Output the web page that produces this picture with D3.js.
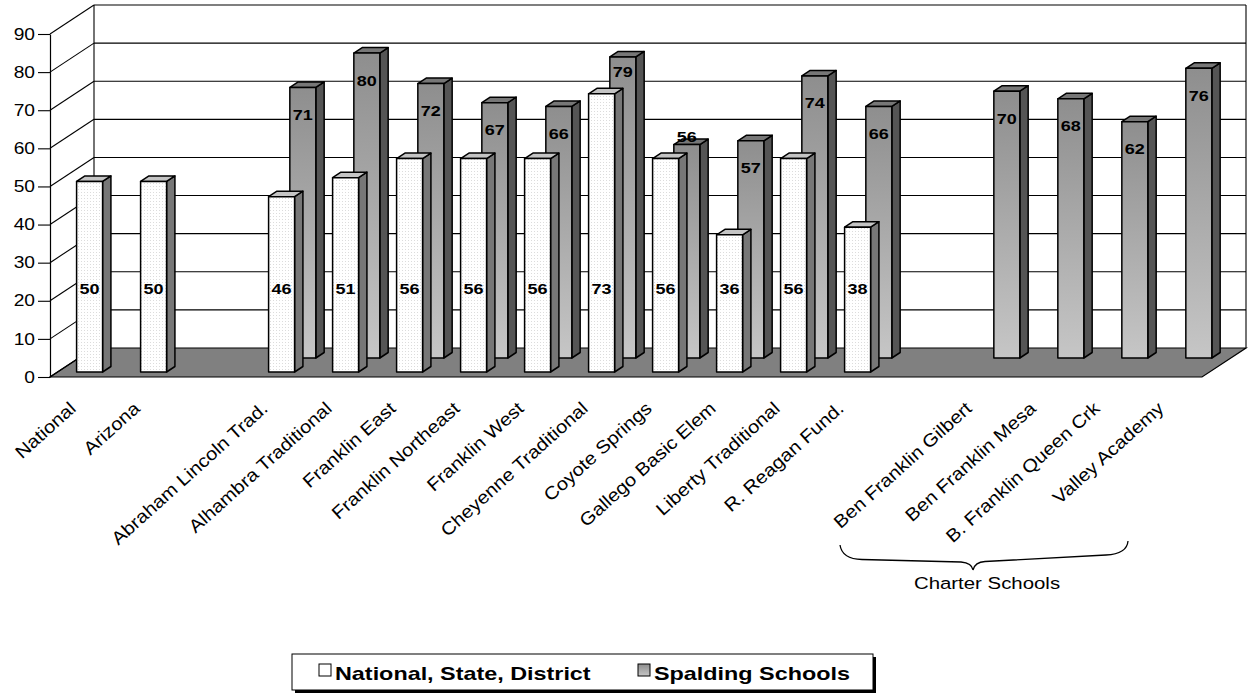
<!DOCTYPE html>
<html>
<head>
<meta charset="utf-8">
<script src="https://cdn.jsdelivr.net/npm/d3@7"></script>
<style>
  html, body { margin: 0; padding: 0; background: #fff; }
  svg { display: block; font-family: "Liberation Sans", Arial, sans-serif; }
</style>
</head>
<body>
<svg id="chart" width="1249" height="693"></svg>
<script>
// ---------- data ----------
const categories = ["National", "Arizona", "", "Abraham Lincoln Trad.", "Alhambra Traditional",
  "Franklin East", "Franklin Northeast", "Franklin West", "Cheyenne Traditional", "Coyote Springs",
  "Gallego Basic Elem", "Liberty Traditional", "R. Reagan Fund.", "", "Ben Franklin Gilbert",
  "Ben Franklin Mesa", "B. Franklin Queen Crk", "Valley Academy"];
const nationalStateDistrict = [50, 50, null, 46, 51, 56, 56, 56, 73, 56, 36, 56, 38, null, null, null, null, null];
const spaldingSchools = [null, null, null, 71, 80, 72, 67, 66, 79, 56, 57, 74, 66, null, 70, 68, 62, 76];
const seriesNames = ["National, State, District", "Spalding Schools"];
const yTicks = [0, 10, 20, 30, 40, 50, 60, 70, 80, 90];
const groupLabel = "Charter Schools";
const groupFirst = 14, groupLast = 17;

// ---------- layout ----------
const svg = d3.select("#chart");
const SX = 1.2;                 // horizontal text stretch of the original picture
const DX = 44, DY = -29;         // 3-D depth offset
const x = d3.scaleBand().domain(d3.range(categories.length))
  .range([50, 1202]).paddingInner(0.594).paddingOuter(0.297);
const y = d3.scaleLinear().domain([0, 90]).range([377, 34]);
const y0 = y(0);
const P = (px, py, z) => [px + DX * z, py + DY * z];
const Z_WHITE = [5 / 29, 10.5 / 29], Z_GRAY = [19 / 29, 24.5 / 29];

const defs = svg.append("defs");
const pat = defs.append("pattern").attr("id", "dots").attr("width", 3).attr("height", 3)
  .attr("patternUnits", "userSpaceOnUse");
pat.append("rect").attr("width", 3).attr("height", 3).attr("fill", "#ffffff");
pat.append("rect").attr("width", 1).attr("height", 1).attr("fill", "#dcdcdc");
const grad = defs.append("linearGradient").attr("id", "grayGrad")
  .attr("x1", 0).attr("y1", 0).attr("x2", 0).attr("y2", 1);
grad.append("stop").attr("offset", "0%").attr("stop-color", "#8e8e8e");
grad.append("stop").attr("offset", "100%").attr("stop-color", "#c6c6c6");

// ---------- walls ----------
const walls = svg.append("g");
const floorPts = [[x.range()[0], y0], [x.range()[1], y0], P(x.range()[1], y0, 1), P(x.range()[0], y0, 1)];
walls.append("polygon").attr("points", floorPts.map(p => p.join(",")).join(" "))
  .attr("fill", "#808080").attr("stroke", "#000").attr("stroke-width", 1.2);
yTicks.filter(t => t > 0).forEach(t => {
  const a = P(x.range()[0], y(t), 1), b = P(x.range()[1], y(t), 1);
  walls.append("line").attr("x1", a[0]).attr("y1", a[1]).attr("x2", b[0]).attr("y2", b[1])
    .attr("stroke", "#000").attr("stroke-width", 1.1);
});
yTicks.forEach(t => {
  const a = [x.range()[0], y(t)], b = P(x.range()[0], y(t), 1);
  walls.append("line").attr("x1", a[0]).attr("y1", a[1]).attr("x2", b[0]).attr("y2", b[1])
    .attr("stroke", "#000").attr("stroke-width", 1.1);
});
[x.range()[0], x.range()[1]].forEach(px => {
  const a = P(px, y(90), 1), b = P(px, y0, 1);
  walls.append("line").attr("x1", a[0]).attr("y1", a[1]).attr("x2", b[0]).attr("y2", b[1])
    .attr("stroke", "#000").attr("stroke-width", 1.1);
});

// y axis
const yAxis = svg.append("g").attr("transform", `translate(${x.range()[0]},0)`)
  .call(d3.axisLeft(y).tickValues(yTicks).tickSize(12).tickSizeOuter(0).tickPadding(3));
yAxis.select(".domain").attr("stroke", "#000").attr("stroke-width", 1.2);
yAxis.selectAll(".tick line").attr("stroke", "#000").attr("stroke-width", 1.1);
yAxis.selectAll(".tick text").attr("font-size", 16).attr("fill", "#000")
  .attr("font-family", "Liberation Sans, Arial, sans-serif")
  .attr("x", -15 / SX).attr("transform", `scale(${SX},1)`);

// ---------- bars ----------
function drawBar(g, i, v, za, zb, frontFill, sideFill, topFill) {
  const xl = x(i), xr = x(i) + x.bandwidth(), yv = y(v);
  const poly = pts => pts.map(p => p.join(",")).join(" ");
  const f = [P(xl, yv, za), P(xr, yv, za), P(xr, y0, za), P(xl, y0, za)];
  const t = [P(xl, yv, za), P(xr, yv, za), P(xr, yv, zb), P(xl, yv, zb)];
  const s = [P(xr, yv, za), P(xr, yv, zb), P(xr, y0, zb), P(xr, y0, za)];
  const add = (pts, fill) => g.append("polygon").attr("points", poly(pts)).attr("fill", fill)
    .attr("stroke", "#000").attr("stroke-width", 1.5).attr("stroke-linejoin", "round");
  add(s, sideFill); add(t, topFill); add(f, frontFill);
  return { cx: (f[0][0] + f[1][0]) / 2, top: f[0][1], topBack: t[2][1] };
}

const grayG = svg.append("g");
const whiteG = svg.append("g");
const labelG = svg.append("g").attr("font-weight", "bold").attr("font-size", 15)
  .attr("text-anchor", "middle").attr("fill", "#000");

spaldingSchools.forEach((v, i) => {
  if (v == null) return;
  const b = drawBar(grayG, i, v, Z_GRAY[0], Z_GRAY[1], "url(#grayGrad)", "#555555", "#777777");
  let cy = b.top + 27;
  const w = nationalStateDistrict[i];
  if (w != null) {
    // keep label clear of the white bar standing in front
    const wTop = P(0, y(w), Z_WHITE[1])[1];
    cy = Math.min(cy, wTop - 17);
  }
  labelG.append("text").attr("transform", `translate(${b.cx},${cy + 5.5}) scale(${SX},1)`).text(v);
});
nationalStateDistrict.forEach((v, i) => {
  if (v == null) return;
  const b = drawBar(whiteG, i, v, Z_WHITE[0], Z_WHITE[1], "url(#dots)", "#777777", "#c4c4c4");
  labelG.append("text").attr("transform", `translate(${b.cx},${y0 - 83}) scale(${SX},1)`).text(v);
});

// ---------- category labels ----------
const catG = svg.append("g").attr("font-size", 18).attr("text-anchor", "end").attr("fill", "#000");
categories.forEach((c, i) => {
  if (!c) return;
  const cx = x(i) + x.bandwidth() / 2;
  catG.append("text")
    .attr("transform", `translate(${cx - 5},${y0 + 33}) rotate(-42) scale(1.12,1)`)
    .text(c);
});

// ---------- brace ----------
const bl = x(groupFirst) - 125, br = x(groupLast) - 29;
const bm = bl + 133;
const bp = d3.path();
bp.moveTo(bl, 545);
bp.quadraticCurveTo(bl + 2, 559, bl + 22, 559.5);
bp.lineTo(bm - 12, 562);
bp.quadraticCurveTo(bm - 1, 563, bm, 570);
bp.quadraticCurveTo(bm + 2, 562, bm + 12, 561.5);
bp.lineTo(br - 22, 555);
bp.quadraticCurveTo(br - 1, 554, br, 541);
svg.append("path").attr("d", bp.toString()).attr("fill", "none").attr("stroke", "#000").attr("stroke-width", 1.3);
svg.append("text").attr("transform", `translate(${bm + 14},589) scale(${SX},1)`)
  .attr("text-anchor", "middle").attr("font-size", 17).attr("fill", "#000").text(groupLabel);

// ---------- legend ----------
const LSX = 1.23;
const lg = svg.append("g").attr("transform", "translate(292,654)");
lg.append("rect").attr("x", 3).attr("y", 3).attr("width", 581).attr("height", 36).attr("fill", "#000");
lg.append("rect").attr("x", 0).attr("y", 0).attr("width", 581).attr("height", 36)
  .attr("fill", "#fff").attr("stroke", "#000").attr("stroke-width", 1);
const legendItems = [
  { name: seriesNames[0], fill: "#ffffff", x: 27 },
  { name: seriesNames[1], fill: "url(#grayGrad)", x: 346 }
];
legendItems.forEach(it => {
  lg.append("rect").attr("x", it.x).attr("y", 10).attr("width", 12).attr("height", 12)
    .attr("fill", it.fill).attr("stroke", "#000").attr("stroke-width", 1);
  lg.append("text").attr("transform", `translate(${it.x + 16},26) scale(${LSX},1)`)
    .attr("font-size", 19).attr("font-weight", "bold").attr("fill", "#000").text(it.name);
});
</script>
</body>
</html>
